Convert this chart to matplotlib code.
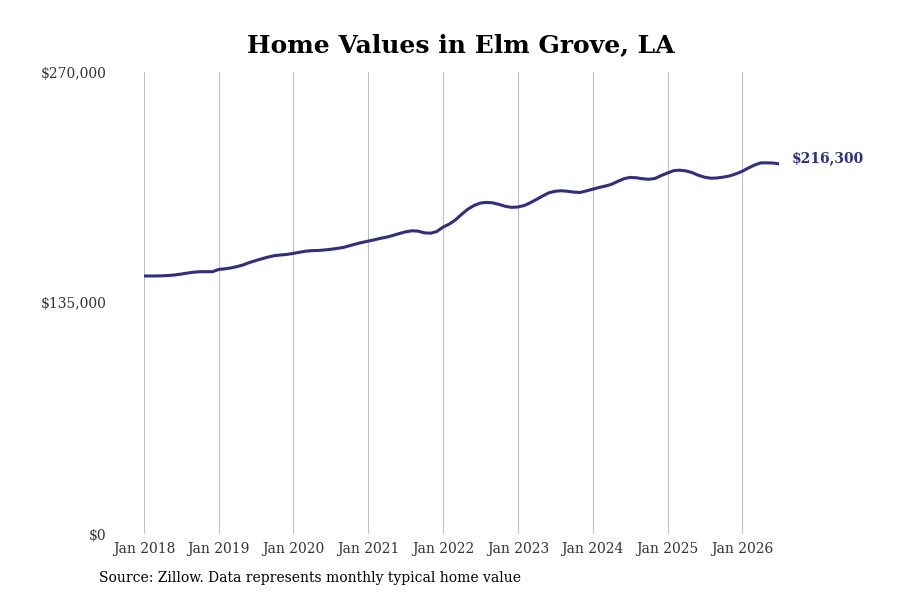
import numpy as np
import pandas as pd
import matplotlib
matplotlib.use("Agg")
import matplotlib.pyplot as plt

# monthly typical home value, Jan 2018 - Jul 2026 (thousands)
vals_2018 = [150.8, 150.8, 150.8, 150.9, 151.1, 151.4, 151.9, 152.5, 153.0, 153.3, 153.3, 153.3]
vals_2019 = [154.6, 155.0, 155.5, 156.3, 157.3, 158.7, 159.8, 160.9, 161.9, 162.7, 163.1, 163.4]
vals_2020 = [164.0, 164.7, 165.3, 165.6, 165.7, 166.0, 166.4, 166.9, 167.5, 168.5, 169.5, 170.4]
vals_2021 = [171.2, 172.0, 172.8, 173.5, 174.5, 175.6, 176.6, 177.2, 177.0, 176.0, 175.8, 176.8]
vals_2022 = [179.4, 181.2, 183.5, 186.8, 189.8, 192.0, 193.4, 193.8, 193.5, 192.6, 191.5, 190.9]
vals_2023 = [191.1, 192.0, 193.5, 195.5, 197.5, 199.4, 200.3, 200.6, 200.3, 199.8, 199.6, 200.5]
vals_2024 = [201.5, 202.5, 203.3, 204.3, 206.0, 207.6, 208.4, 208.2, 207.6, 207.3, 207.8, 209.5]
vals_2025 = [211.0, 212.4, 212.6, 212.2, 211.2, 209.6, 208.5, 207.9, 208.1, 208.6, 209.3, 210.5]
vals_2026 = [212.0, 214.0, 215.6, 216.9, 216.9, 216.8, 216.3]

values = np.array(vals_2018 + vals_2019 + vals_2020 + vals_2021 + vals_2022 +
                  vals_2023 + vals_2024 + vals_2025 + vals_2026) * 1000
dates = pd.date_range("2018-01-01", periods=len(values), freq="MS")
years = list(range(2018, 2027))
last_label = "$216,300"

navy = "#2e2d88"
serif = ["DejaVu Serif"]

fig = plt.figure(figsize=(9, 6), dpi=100)
ax = fig.add_axes([0.16, 0.11, 0.706, 0.77])
ax.plot(dates, values, color=navy, lw=2.2)

ax.set_ylim(0, 270000)
ax.set_xlim(dates[0], dates[-1])
ax.set_yticks([0, 135000, 270000])
ax.set_yticklabels(["$0", "$135,000", "$270,000"], family=serif, fontsize=10, color="#333333")
xt = [pd.Timestamp(f"{y}-01-01") for y in years]
ax.set_xticks(xt)
ax.set_xticklabels([f"Jan {y}" for y in years], family=serif, fontsize=10, color="#333333")
ax.tick_params(length=0, pad=6)
ax.tick_params(axis="y", pad=27)
ax.grid(axis="x", color="#c0c0c0", lw=0.8)
for s in ax.spines.values():
    s.set_visible(False)

ax.annotate(last_label, (dates[-1], values[-1]), xytext=(9, 4), textcoords="offset points",
            color=navy, fontweight="bold", family=serif, fontsize=10, va="center",
            annotation_clip=False)

fig.text(0.512, 0.925, "Home Values in Elm Grove, LA", ha="center", va="center",
         family=serif, fontweight="bold", fontsize=18)
fig.text(0.11, 0.03, "Source: Zillow. Data represents monthly typical home value",
         family=serif, fontsize=10)

fig.savefig("out.png")
